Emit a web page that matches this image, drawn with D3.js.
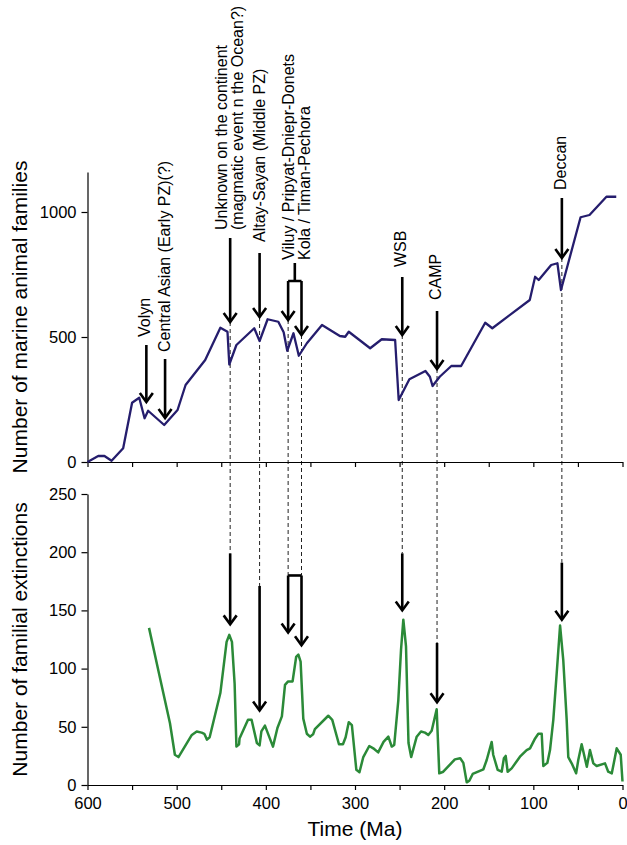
<!DOCTYPE html>
<html>
<head>
<meta charset="utf-8">
<title>Marine families and extinctions</title>
<script src="https://d3js.org/d3.v7.min.js"></script>
<style>
  body { margin: 0; background: #fff; }
  svg { display: block; font-family: 'Liberation Sans', Arial, sans-serif; }
  .axis text { font-size: 16.5px; fill: #000; }
  .axis path, .axis line { stroke: #000; stroke-width: 1.2; }
  .label { font-size: 16px; fill: #000; }
  .title { font-size: 21px; fill: #000; }
</style>
</head>
<body>
<div id="chart"></div>
<script>
// diversity curve (Ma, number of families)
const familyAge = [600, 588, 581, 573, 560, 550, 542, 536, 532, 514, 499, 490, 468, 451, 443, 441, 433, 413, 407, 398, 386, 380, 376, 369, 363, 354, 337, 317, 311, 307, 283, 270, 255, 251, 239, 221, 216, 213, 205, 192, 181, 154, 146, 104, 98, 94, 80, 73, 69, 47, 37, 18, 7];
const familyCount = [0, 24, 24, 5, 55, 237, 257, 175, 205, 148, 208, 308, 408, 537, 521, 390, 468, 535, 484, 571, 561, 519, 445, 515, 425, 475, 548, 504, 501, 521, 455, 491, 488, 248, 331, 364, 341, 304, 341, 384, 384, 557, 535, 648, 741, 728, 788, 795, 688, 979, 988, 1061, 1061];

// extinctions (Ma, number of families lost)
const extinctionAge = [531, 519, 507.5, 502, 498, 483, 477.5, 472, 469, 466, 463, 451, 444, 441, 438, 435, 433, 430, 429.5, 420, 416, 410, 407, 405, 401, 392, 387, 382, 378.5, 375, 370, 366, 363.5, 361, 358, 354, 350.5, 347, 345, 330, 325.5, 318, 313.5, 310.5, 307, 303.5, 298.5, 295, 290.7, 284, 279.5, 274, 268, 262.6, 258.8, 256, 251.4, 248.4, 245.8, 242.8, 240, 237, 230.8, 226, 221.5, 217.8, 214, 208.4, 205.5, 201, 188, 182, 178.5, 174.7, 171.8, 168, 156, 152.3, 146.7, 145, 140, 135.5, 133, 131, 128.8, 124.3, 115, 107.5, 103.7, 98, 94.4, 90.6, 88.8, 84.3, 81.3, 77.6, 73.8, 70, 66.4, 62.6, 60.8, 57, 52, 49.6, 45.8, 40, 36.5, 32.7, 29, 19.6, 16, 12, 6.5, 2, 0];
const extinctionCount = [135, 93, 53, 26, 24, 43, 46, 45, 44, 39, 41, 79, 123, 129, 123, 87, 33, 35, 40, 56, 56, 36, 34, 46, 51, 33, 49, 59, 86, 89, 89, 110, 112, 106, 57, 44, 41.5, 43.5, 48, 59.5, 56, 35, 35, 41, 54, 51.5, 13, 11, 24, 33.5, 31.5, 28, 37, 41.5, 33, 34.4, 73, 116, 142, 119, 36, 24, 41.5, 46, 45, 43, 46.6, 65, 10, 11.4, 22, 23, 19, 2.3, 3.7, 9.5, 13.5, 21.5, 37, 26, 13, 11.4, 23, 25, 11.4, 14.3, 24.3, 30, 31.5, 40, 44, 44, 16.3, 19, 30, 56, 96, 137, 107, 56, 24, 18.6, 10, 21.5, 35, 15.7, 30, 18.6, 16.3, 18.6, 11.4, 10, 31.5, 26, 3];

const timeTicks = d3.range(600, -1, -50);
const familyTicks = [0, 500, 1000];
const extinctionTicks = [0, 50, 100, 150, 200, 250];

// events: age of arrow, label lines, label start (families), top arrow [from,to], bottom arrow [from,to]
const events = [
  { lines: ['Volyn'], age: 534, labelAge: 536, labelAt: 500, top: [468, 240] },
  { lines: ['Central Asian (Early PZ)(?)'], age: 513, labelAge: 514, labelAt: 440, top: [412, 176] },
  { lines: ['Unknown on the continent', '(magmatic event n the Ocean?)'], age: 440, labelAge: 441, labelAt: 928, top: [896, 560], bottom: [199, 138] },
  { lines: ['Altay-Sayan (Middle PZ)'], age: 407, labelAge: 407, labelAt: 880, top: [836, 580], bottom: [171, 64] },
  { lines: ['WSB'], age: 247, labelAge: 249, labelAt: 780, top: [740, 508], bottom: [199, 150] },
  { lines: ['CAMP'], age: 208, labelAge: 210, labelAt: 648, top: [604, 372], bottom: [122, 71] },
  { lines: ['Deccan'], age: 68, labelAge: 70, labelAt: 1088, top: [1056, 816], bottom: [191, 142] }
];

// Viluy / Kola pair shares a bracket
const pairAges = [375, 360];
const pairLines = ['Viluy / Pripyat-Dniepr-Donets', 'Kola / Timan-Pechora'];
const pairLabelAge = 366;
const pairLabelAt = 808;
const pairStem = [796, 724];
const pairTopTips = [568, 508];
const pairBottomBar = 180;
const pairBottomTips = [131, 120];

const width = 627, height = 845;
const svg = d3.select('#chart').append('svg')
    .attr('width', width)
    .attr('height', height);

const x = d3.scaleLinear().domain([600, 0]).range([87.5, 622.5]);
const yTop = d3.scaleLinear().domain([0, 1160]).range([462, 172]);
const yBot = d3.scaleLinear().domain([0, 250]).range([785, 494]);

// dashed guides first so the curves sit on top
const guides = svg.append('g')
    .attr('stroke', '#222')
    .attr('stroke-width', 1)
    .attr('stroke-dasharray', '4,3');
events.filter(d => d.bottom).forEach(d => {
    guides.append('line')
        .attr('x1', x(d.age)).attr('x2', x(d.age))
        .attr('y1', yTop(d.top[1])).attr('y2', yBot(d.bottom[0]));
});
pairAges.forEach((a, i) => {
    guides.append('line')
        .attr('x1', x(a)).attr('x2', x(a))
        .attr('y1', yTop(pairTopTips[i])).attr('y2', yBot(pairBottomBar));
});

// axes
svg.append('g').attr('class', 'axis')
    .attr('transform', 'translate(0,462)')
    .call(d3.axisBottom(x).tickValues(timeTicks).tickSize(5).tickSizeOuter(0).tickFormat(''));
svg.append('g').attr('class', 'axis')
    .attr('transform', 'translate(87.5,0)')
    .call(d3.axisLeft(yTop).tickValues(familyTicks).tickSize(6).tickPadding(5).tickSizeOuter(0)
        .tickFormat(d3.format('d')));

svg.append('g').attr('class', 'axis')
    .attr('transform', 'translate(0,785)')
    .call(d3.axisBottom(x).tickValues(timeTicks).tickSize(5).tickPadding(7).tickSizeOuter(0)
        .tickFormat(d => d % 100 === 0 ? d : ''));
svg.append('g').attr('class', 'axis')
    .attr('transform', 'translate(87.5,0)')
    .call(d3.axisLeft(yBot).tickValues(extinctionTicks).tickSize(6).tickPadding(5).tickSizeOuter(0));

// titles
svg.append('text').attr('class', 'title')
    .attr('transform', `translate(27,${(462 + 172) / 2}) rotate(-90)`)
    .attr('text-anchor', 'middle')
    .text('Number of marine animal families');
svg.append('text').attr('class', 'title')
    .attr('transform', `translate(27,${(785 + 494) / 2}) rotate(-90)`)
    .attr('text-anchor', 'middle')
    .text('Number of familial extinctions');
svg.append('text').attr('class', 'title')
    .attr('x', (87.5 + 622.5) / 2)
    .attr('y', 836)
    .attr('text-anchor', 'middle')
    .text('Time (Ma)');

// curves
const familyLine = d3.line()
    .x((d, i) => x(familyAge[i]))
    .y(d => yTop(d));
svg.append('path')
    .datum(familyCount)
    .attr('fill', 'none')
    .attr('stroke', '#251d6d')
    .attr('stroke-width', 2.3)
    .attr('stroke-linejoin', 'round')
    .attr('d', familyLine);

const extinctionLine = d3.line()
    .x((d, i) => x(extinctionAge[i]))
    .y(d => yBot(d));
svg.append('path')
    .datum(extinctionCount)
    .attr('fill', 'none')
    .attr('stroke', '#2b8a38')
    .attr('stroke-width', 2.5)
    .attr('stroke-linejoin', 'round')
    .attr('d', extinctionLine);

// arrows
const marks = svg.append('g')
    .attr('stroke', '#000')
    .attr('stroke-width', 2.6)
    .attr('fill', 'none');

function arrow(px, y1, y2) {
    marks.append('line')
        .attr('x1', px).attr('x2', px)
        .attr('y1', y1).attr('y2', y2 - 1);
    marks.append('path')
        .attr('d', `M${px - 6.5},${y2 - 9}L${px},${y2}L${px + 6.5},${y2 - 9}`);
}

function labelLines(lines, age, at) {
    const cx = x(age);
    lines.forEach((t, i) => {
        const lx = cx + (i - (lines.length - 1) / 2) * 16.5;
        svg.append('text').attr('class', 'label')
            .attr('transform', `translate(${lx},${yTop(at)}) rotate(-90)`)
            .attr('dy', '0.35em')
            .text(t);
    });
}

events.forEach(d => {
    arrow(x(d.age), yTop(d.top[0]), yTop(d.top[1]));
    if (d.bottom) arrow(x(d.age), yBot(d.bottom[0]), yBot(d.bottom[1]));
    labelLines(d.lines, d.labelAge, d.labelAt);
});

// Viluy / Kola bracket, top
const pairX = pairAges.map(a => x(a));
const stemX = (pairX[0] + pairX[1]) / 2;
marks.append('path')
    .attr('d', `M${stemX},${yTop(pairStem[0])}V${yTop(pairStem[1])}M${pairX[0]},${yTop(pairStem[1])}H${pairX[1]}`);
pairX.forEach((px, i) => arrow(px, yTop(pairStem[1]), yTop(pairTopTips[i])));
// bottom
marks.append('path')
    .attr('d', `M${pairX[0]},${yBot(pairBottomBar)}H${pairX[1]}`);
pairX.forEach((px, i) => arrow(px, yBot(pairBottomBar), yBot(pairBottomTips[i])));
labelLines(pairLines, pairLabelAge, pairLabelAt);
</script>
</body>
</html>
